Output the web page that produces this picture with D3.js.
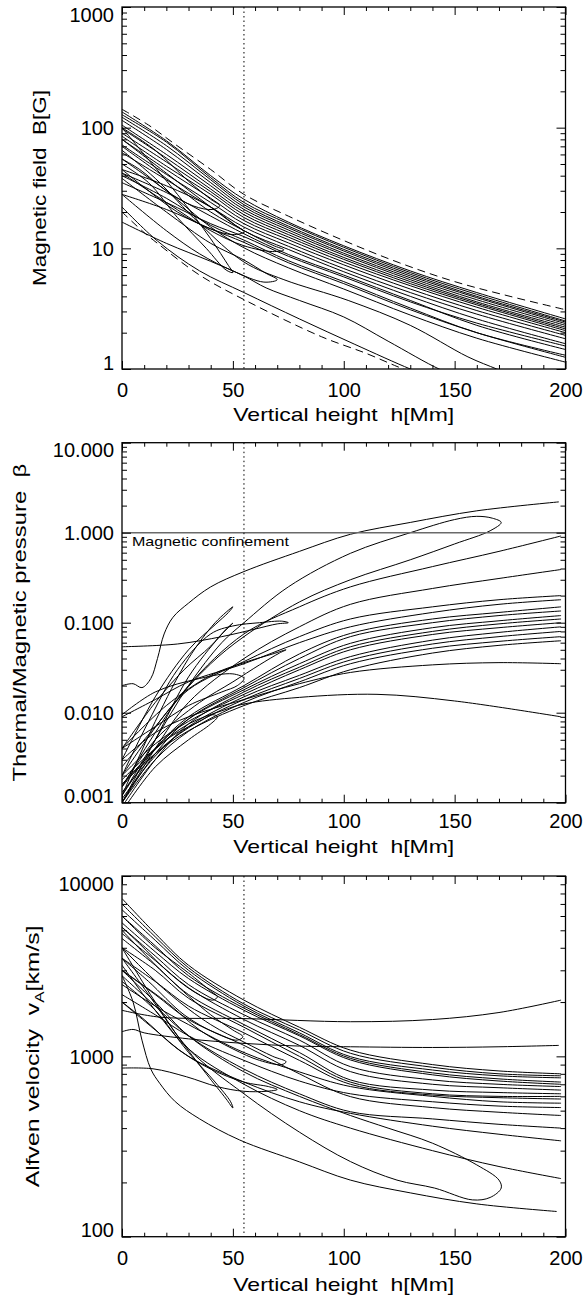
<!DOCTYPE html>
<html><head><meta charset="utf-8">
<script src="https://cdn.jsdelivr.net/npm/d3@7"></script>
<style>
body{margin:0;background:#fff}
svg{display:block}
text{font-family:"Liberation Sans",Arial,Helvetica,sans-serif;fill:#000}
</style>
</head><body>
<svg id="c" width="586" height="1296"></svg>
<script>
// ---------------- DATA ----------------
const xMajor = [0, 50, 100, 150, 200];
const xMinor = [10,20,30,40,60,70,80,90,110,120,130,140,160,170,180,190];
const hDotted = 55;
const xTitle = "Vertical height  h[Mm]";

// Panel 1 : magnetic field B [G]
const bTicks = [1, 10, 100, 1000];
const bTickLabels = ["1", "10", "100", "1000"];
const bGrid = [0, 20, 40, 55, 75, 100, 130, 160, 200];
const bRows = [
  [135, 78, 40, 25.5, 16.5, 10.5, 6.5, 4.3, 2.6],
  [128, 76, 38.5, 24, 16, 10.2, 6.3, 4.15, 2.5],
  [122, 71, 37, 23, 15.3, 9.8, 6.1, 4.0, 2.45],
  [115, 66, 35, 22, 14.8, 9.5, 5.9, 3.9, 2.38],
  [105, 60, 33, 21, 14.2, 9.1, 5.7, 3.75, 2.3],
  [98, 56, 31, 20, 13.6, 8.8, 5.5, 3.6, 2.22],
  [90, 52, 29.5, 19, 13, 8.4, 5.3, 3.5, 2.15],
  [85, 48, 28, 18, 12.4, 8.1, 5.1, 3.4, 2.08],
  [80, 45, 26, 17, 11.8, 7.7, 4.9, 3.25, 2.0],
  [72, 41, 24, 16, 11.1, 7.3, 4.6, 3.05, 1.9],
  [62, 37, 22, 15, 10.4, 6.8, 4.3, 2.85, 1.78],
  [45, 33, 22, 14, 9.8, 6.4, 4.0, 2.6, 1.62],
  [42, 29, 18.5, 13.2, 8.9, 6.0, 3.7, 2.3, 1.45],
  [40, 26, 15.5, 11.7, 7.9, 5.3, 3.2, 2.0, 1.3],
  [55, 30, 15, 10.1, 6.9, 4.6, 2.8, 1.8, 1.14],
  [35, 24, 16, 12.5, 8.6, 5.8, 3.6, 2.4, 1.55],
  [28, 21, 14.5, 11.2, 7.6, 5.1, 3.1, 2.0, 1.25]
];
const bExtra = [
  [[0,65],[15,38],[35,16],[55,7.7],[73,5.5],[102,3.7],[130,2.3],[156,1.26],[169,1.0],[175,0.9]],
  [[0,16.5],[20,11],[40,7.8],[55,5.9],[65,4.7],[80,3.7],[100,2.7],[120,1.7],[143,1.0],[150,0.9]],
  [[0,22],[16,11.5],[35,6.5],[55,4.3],[80,2.6],[105,1.6],[130,1.0],[140,0.85]],
  // loops
  [[0,100],[15,65],[30,36],[40,25.5],[44,22.5],[41,21],[32,22.5],[20,30],[8,45],[0,55]],
  [[0,80],[20,42],[40,22],[50,16],[55,13.7],[50,13.0],[40,14.5],[25,20],[10,32],[0,45]],
  [[0,100],[10,60],[25,28],[40,12],[48,7.2],[50,6.3],[47,6.6],[38,10],[25,18],[12,35],[0,50]],
  [[0,38],[20,20],[40,11],[55,8],[65,6.2],[70,5.5],[64,5.25],[50,6.5],[35,9],[20,14],[0,28]],
  [[0,70],[20,38],[40,20],[55,14],[68,10.6],[73,9.7],[68,9.4],[55,10.5],[40,14],[20,24],[0,42]]
];
const bDashed = [
  [[0,142],[12,105],[23,75],[40,45],[55,28],[75,18.5],[100,11.6],[125,7.6],[150,5.3],[175,4.0],[200,3.1]],
  [[0,20],[10,13.5],[16,11],[35,6],[57,3.6],[90,1.85],[110,1.35],[124,1.05],[130,0.95]]
];

// Panel 2 : plasma beta
const betaTicks = [0.001, 0.01, 0.1, 1, 10];
const betaTickLabels = ["0.001", "0.010", "0.100", "1.000", "10.000"];
const betaConfine = 1;
const betaNote = "Magnetic confinement";
const betaGrid = [0, 15, 30, 55, 80, 103, 140, 170, 198];
const betaRows = [
  [0.0015, 0.006, 0.02, 0.075, 0.15, 0.25, 0.42, 0.62, 0.92],
  [0.001, 0.004, 0.013, 0.04, 0.09, 0.16, 0.24, 0.31, 0.39],
  [0.0025, 0.007, 0.018, 0.037, 0.07, 0.11, 0.15, 0.18, 0.2],
  [0.0012, 0.004, 0.009, 0.02, 0.045, 0.076, 0.11, 0.13, 0.15],
  [0.001, 0.0035, 0.0085, 0.019, 0.04, 0.07, 0.1, 0.12, 0.135],
  [0.0015, 0.004, 0.0085, 0.018, 0.035, 0.059, 0.088, 0.105, 0.12],
  [0.0009, 0.003, 0.0075, 0.017, 0.032, 0.054, 0.08, 0.097, 0.11],
  [0.002, 0.0045, 0.008, 0.016, 0.03, 0.05, 0.074, 0.088, 0.1],
  [0.0011, 0.0033, 0.007, 0.015, 0.026, 0.042, 0.064, 0.078, 0.09],
  [0.0013, 0.0035, 0.0068, 0.014, 0.024, 0.0385, 0.058, 0.07, 0.08],
  [0.001, 0.003, 0.0062, 0.013, 0.022, 0.035, 0.052, 0.062, 0.07],
  [0.0016, 0.0035, 0.0063, 0.012, 0.019, 0.03, 0.046, 0.056, 0.063],
  [0.003, 0.006, 0.009, 0.014, 0.021, 0.028, 0.034, 0.036, 0.035],
  [0.009, 0.014, 0.022, 0.035, 0.06, 0.09, 0.13, 0.16, 0.18]
];
const betaExtra = [
  [[0,0.02],[5,0.021],[9,0.019],[13,0.024],[16,0.04],[19,0.075],[23,0.115],[30,0.165],[40,0.25],[55,0.37],[80,0.62],[103,0.96],[130,1.3],[160,1.75],[197,2.2]],
  [[0,0.0012],[15,0.005],[30,0.02],[45,0.06],[55,0.1],[75,0.25],[103,0.59],[130,1.0],[150,1.4],[160,1.52],[167,1.45],[171,1.3],[166,1.05],[150,0.75],[130,0.5],[103,0.3],[80,0.17],[55,0.07],[40,0.035],[20,0.01],[0,0.002]],
  [[0,0.0018],[15,0.004],[30,0.0075],[45,0.0105],[55,0.0125],[80,0.0148],[115,0.016],[150,0.0135],[198,0.009]],
  [[0,0.054],[25,0.058],[45,0.07],[60,0.085],[70,0.097],[75,0.1],[72,0.104],[62,0.1],[50,0.092],[40,0.075],[25,0.03],[12,0.008],[0,0.002]],
  [[0,0.0012],[15,0.008],[30,0.04],[42,0.1],[50,0.15],[48,0.13],[42,0.095],[30,0.05],[15,0.015],[0,0.003]],
  [[0,0.001],[15,0.005],[30,0.025],[44,0.07],[50,0.099],[47,0.085],[40,0.055],[28,0.03],[15,0.013],[0,0.004]],
  [[0,0.004],[20,0.012],[40,0.026],[55,0.036],[68,0.045],[74,0.05],[71,0.046],[62,0.034],[50,0.022],[35,0.013],[15,0.005],[0,0.0015]],
  [[0,0.0095],[15,0.017],[35,0.024],[50,0.027],[55,0.024],[52,0.02],[45,0.017],[30,0.012],[15,0.007],[0,0.004]],
  [[0,0.0008],[15,0.0025],[30,0.005],[40,0.0075],[43,0.009],[41,0.0095],[35,0.008],[20,0.005],[0,0.0016]]
];

// Panel 3 : Alfven velocity
const vaTicks = [100, 1000, 10000];
const vaTickLabels = ["100", "1000", "10000"];
const vaGrid = [0, 15, 30, 55, 80, 103, 140, 170, 198];
const vaRows = [
  [7500, 4800, 3200, 2050, 1450, 1083, 900, 830, 800],
  [7000, 4600, 3100, 1950, 1400, 1040, 870, 800, 780],
  [6500, 4400, 3000, 1900, 1350, 996, 840, 780, 760],
  [6000, 4100, 2800, 1850, 1320, 975, 810, 750, 720],
  [5500, 3800, 2700, 1800, 1300, 955, 790, 730, 700],
  [5200, 3600, 2500, 1700, 1230, 877, 740, 700, 680],
  [4800, 3400, 2400, 1600, 1150, 823, 700, 670, 650],
  [4500, 3200, 2200, 1500, 1050, 740, 650, 630, 620],
  [4000, 3000, 2100, 1450, 1000, 720, 620, 600, 600],
  [3500, 2600, 1900, 1350, 950, 700, 610, 590, 580],
  [3000, 2200, 1600, 1150, 800, 598, 520, 490, 470],
  [2500, 1900, 1500, 1050, 820, 680, 600, 560, 550],
  [2200, 1700, 1300, 950, 730, 620, 560, 530, 520],
  [2800, 1900, 1300, 850, 620, 493, 450, 420, 400],
  [2000, 1400, 1000, 720, 560, 483, 410, 370, 340],
  [3200, 1800, 1100, 700, 500, 400, 300, 245, 210]
];
const vaExtra = [
  [[0,1800],[17,1650],[55,1620],[103,1556],[140,1600],[170,1750],[198,2050]],
  [[0,1370],[5,1410],[10,1350],[30,1250],[55,1180],[80,1140],[103,1130],[140,1120],[170,1130],[197,1150]],
  [[0,2800],[5,2000],[9,1230],[13,850],[17,709],[24,561],[35,450],[53,344],[80,260],[103,206],[130,175],[160,152],[196,138]],
  [[0,4000],[15,2000],[30,1100],[55,620],[80,380],[103,261],[124,206],[141,186],[158,160],[166,165],[171,186],[170,206],[160,250],[140,330],[120,400],[103,470],[80,600],[55,820],[30,1300],[15,2000],[0,3000]],
  [[0,6000],[15,4000],[30,2900],[40,2300],[43,2140],[41,2050],[32,2300],[20,3000],[8,4200],[0,5200]],
  [[0,5000],[20,2800],[40,1700],[50,1400],[54.5,1285],[52,1230],[42,1350],[28,1700],[12,2600],[0,3500]],
  [[0,3500],[12,2200],[25,1300],[38,800],[47,580],[50,517],[49,560],[42,720],[30,1050],[15,1800],[0,2600]],
  [[0,861],[14,853],[29,771],[43,679],[55,640],[65,640],[70,655],[66,680],[55,720],[40,850],[25,1100],[10,1600],[0,2000]],
  [[0,4000],[20,2300],[40,1500],[55,1200],[68,1000],[74,933],[72,900],[62,950],[50,1100],[35,1400],[20,2000],[0,3000]]
];

// ---------------- DRAW ----------------
const svg = d3.select("#c");
const x = d3.scaleLinear().domain([0, 200]).range([122, 565.5]);
const FONT = '"Liberation Sans",Arial,Helvetica,sans-serif';

function rowsToCurves(grid, rows) { return rows.map(r => grid.map((h, i) => [h, r[i]])); }

const panels = [
  {key:"b", top:7, bottom:369, domain:[1,1000], ticks:bTicks, labels:bTickLabels,
   curves: rowsToCurves(bGrid,bRows).concat(bExtra), dashed:bDashed,
   xPad:14, titleBase:421, ytitle:[{t:"Magnetic field  B[G]"}], yx:46, ylen:196},
  {key:"beta", top:442.7, bottom:802.7, domain:[0.001,10], ticks:betaTicks, labels:betaTickLabels,
   curves: rowsToCurves(betaGrid,betaRows).concat(betaExtra), dashed:[],
   xPad:11, titleBase:853, ytitle:[{t:"Thermal/Magnetic pressure  \u03b2"}], yx:26, ylen:318, confine:true},
  {key:"va", top:876, bottom:1236.7, domain:[100,10000], ticks:vaTicks, labels:vaTickLabels,
   curves: rowsToCurves(vaGrid,vaRows).concat(vaExtra), dashed:[],
   xPad:14.5, titleBase:1291, ytitle:[{t:"Alfven velocity  v"},{t:"A",sub:true},{t:"[km/s]"}], yx:39, ylen:262}
];

function minorTicks(domain) {
  const out = [];
  for (let e = Math.round(Math.log10(domain[0])); e < Math.round(Math.log10(domain[1])); e++) {
    for (let k = 2; k <= 9; k++) out.push(k * Math.pow(10, e));
  }
  return out;
}

function styleAxis(sel, fs) {
  sel.select(".domain").remove();
  sel.selectAll(".tick line").attr("stroke", "#000").attr("stroke-width", 1);
  sel.selectAll("text").attr("font-family", FONT).attr("font-size", fs).attr("fill", "#000");
  sel.attr("font-family", FONT);
}

panels.forEach(p => {
  const y = d3.scaleLog().domain(p.domain).range([p.bottom, p.top]);
  const g = svg.append("g");
  const x0 = x.range()[0], x1 = x.range()[1];
  g.append("clipPath").attr("id", "clip-" + p.key)
    .append("rect").attr("x", x0).attr("y", p.top).attr("width", x1 - x0).attr("height", p.bottom - p.top);
  const plot = g.append("g").attr("clip-path", `url(#clip-${p.key})`);
  const line = d3.line().x(d => x(d[0])).y(d => y(d[1])).curve(d3.curveCatmullRom.alpha(0.5));

  plot.selectAll("path.curve").data(p.curves).join("path").attr("class", "curve")
    .attr("d", line).attr("fill", "none").attr("stroke", "#000").attr("stroke-width", 1);
  plot.selectAll("path.dash").data(p.dashed).join("path").attr("class", "dash")
    .attr("d", line).attr("fill", "none").attr("stroke", "#000").attr("stroke-width", 1)
    .attr("stroke-dasharray", "8,5");

  if (p.confine) {
    plot.append("line").attr("x1", x0).attr("x2", x1).attr("y1", y(betaConfine)).attr("y2", y(betaConfine))
      .attr("stroke", "#6a6a6a").attr("stroke-width", 1.4);
  }
  // dotted vertical line
  g.append("line").attr("x1", x(hDotted)).attr("x2", x(hDotted)).attr("y1", p.top).attr("y2", p.bottom)
    .attr("stroke", "#000").attr("stroke-width", 1).attr("stroke-dasharray", "1.5,3");

  if (p.confine) {
    const t = g.append("text").attr("font-size", 13).attr("font-family", FONT).text(betaNote);
    const w = t.node().getComputedTextLength();
    t.attr("transform", `translate(132,${y(betaConfine) + 13.5}) scale(${157 / w},1)`);
  }

  // axes
  const ax = g.append("g").attr("transform", `translate(0,${p.bottom})`)
    .call(d3.axisBottom(x).tickValues(xMajor).tickSize(-8).tickPadding(p.xPad).tickFormat(d3.format("d")));
  styleAxis(ax, 20);
  styleAxis(g.append("g").attr("transform", `translate(0,${p.bottom})`)
    .call(d3.axisBottom(x).tickValues(xMinor).tickSize(-4).tickFormat("")), 20);
  styleAxis(g.append("g").attr("transform", `translate(0,${p.top})`)
    .call(d3.axisTop(x).tickValues(xMajor).tickSize(-8).tickFormat("")), 20);
  styleAxis(g.append("g").attr("transform", `translate(0,${p.top})`)
    .call(d3.axisTop(x).tickValues(xMinor).tickSize(-4).tickFormat("")), 20);

  const ay = g.append("g").attr("transform", `translate(${x0},0)`)
    .call(d3.axisLeft(y).tickValues(p.ticks).tickSize(-9).tickPadding(8).tickFormat((d, i) => p.labels[i]));
  styleAxis(ay, 20);
  // keep the extreme labels inside the axis span (as in the reference)
  const dMin = p.domain[0], dMax = p.domain[1];
  ay.selectAll(".tick text").attr("dy", d => d === dMax ? "0.7em" : d === dMin ? "0em" : "0.36em");

  const mt = minorTicks(p.domain);
  styleAxis(g.append("g").attr("transform", `translate(${x0},0)`)
    .call(d3.axisLeft(y).tickValues(mt).tickSize(-5).tickFormat("")), 20);
  styleAxis(g.append("g").attr("transform", `translate(${x1},0)`)
    .call(d3.axisRight(y).tickValues(p.ticks).tickSize(-9).tickFormat("")), 20);
  styleAxis(g.append("g").attr("transform", `translate(${x1},0)`)
    .call(d3.axisRight(y).tickValues(mt).tickSize(-5).tickFormat("")), 20);

  // frame
  g.append("rect").attr("x", x0).attr("y", p.top).attr("width", x1 - x0).attr("height", p.bottom - p.top)
    .attr("fill", "none").attr("stroke", "#000").attr("stroke-width", 1.3);

  // x title
  const xt = g.append("text").attr("font-size", 19).attr("font-family", FONT)
    .attr("text-anchor", "middle").style("white-space", "pre").text(xTitle);
  const xw = xt.node().getComputedTextLength();
  xt.attr("transform", `translate(${(x0 + x1) / 2},${p.titleBase}) scale(${221 / xw},1)`);

  // y title
  const cy = (p.top + p.bottom) / 2;
  const yt = g.append("text").attr("font-size", 19).attr("font-family", FONT)
    .attr("text-anchor", "middle").style("white-space", "pre");
  p.ytitle.forEach((s, i) => {
    const ts = yt.append("tspan").text(s.t);
    if (s.sub) ts.attr("font-size", 13).attr("dy", 5);
    else if (i > 0 && p.ytitle[i - 1].sub) ts.attr("dy", -5);
  });
  const yw = yt.node().getComputedTextLength();
  yt.attr("transform", `translate(${p.yx},${cy}) rotate(-90) scale(${p.ylen / yw},1)`);
});
</script>
</body></html>
